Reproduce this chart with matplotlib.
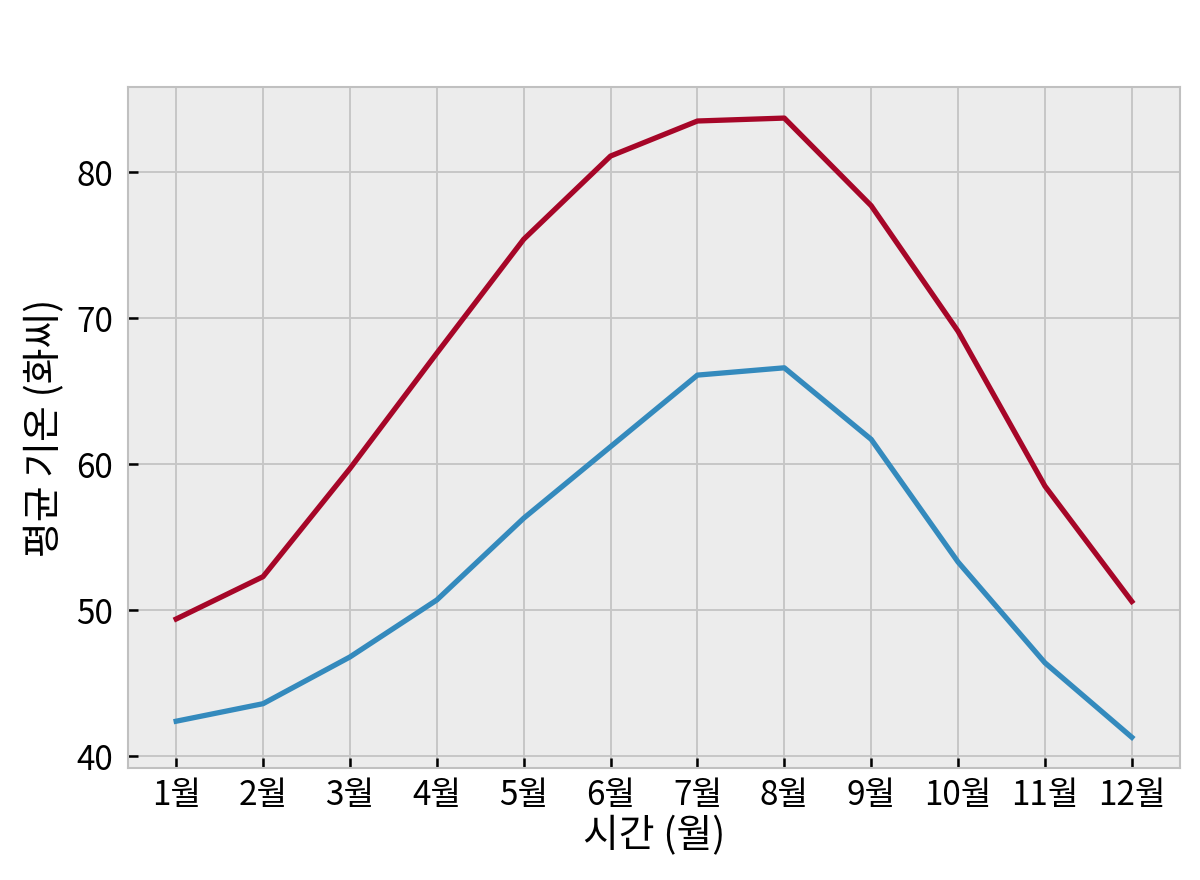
import matplotlib
matplotlib.use('Agg')
from matplotlib import pyplot as plt

# monthly average temperatures (Fahrenheit)
months = ['1월', '2월', '3월', '4월', '5월', '6월', '7월', '8월', '9월', '10월', '11월', '12월']
low_temp = [42.4, 43.6, 46.8, 50.7, 56.3, 61.2, 66.1, 66.6, 61.7, 53.3, 46.4, 41.3]
high_temp = [49.4, 52.3, 59.7, 67.6, 75.4, 81.1, 83.5, 83.7, 77.7, 69.1, 58.5, 50.6]

plt.style.use('bmh')
# Korean glyphs need a CJK font, set after the style
plt.rcParams['font.family'] = ['Noto Sans CJK KR', 'DejaVu Sans']

fig, ax = plt.subplots(figsize=(12, 8.8), dpi=100)
fig.subplots_adjust(left=0.107, right=0.983, top=0.901, bottom=0.127)

x = list(range(1, len(months) + 1))
ax.plot(x, low_temp, color='#348ABD', linewidth=3.8)
ax.plot(x, high_temp, color='#A60628', linewidth=3.8)

# solid light grid instead of the dashed bmh one
ax.set_facecolor('#ececec')
ax.grid(True, linestyle='-', color='#c6c6c6', linewidth=1.4)
for sp in ax.spines.values():
    sp.set_color('#c0c0c0')
    sp.set_linewidth(1.5)

ax.set_xticks(x)
ax.set_xticklabels(months)
ax.set_yticks([40, 50, 60, 70, 80])
ax.tick_params(axis='both', direction='in', labelsize=24, length=7, width=1.8, colors='black')
ax.tick_params(axis='y', pad=11)
ax.tick_params(axis='x', pad=7)

ax.set_xlabel('시간 (월)', fontsize=28, color='black', labelpad=2)
ax.set_ylabel('평균 기온 (화씨)', fontsize=28, color='black', labelpad=8)

plt.savefig('out.png', dpi=100)
